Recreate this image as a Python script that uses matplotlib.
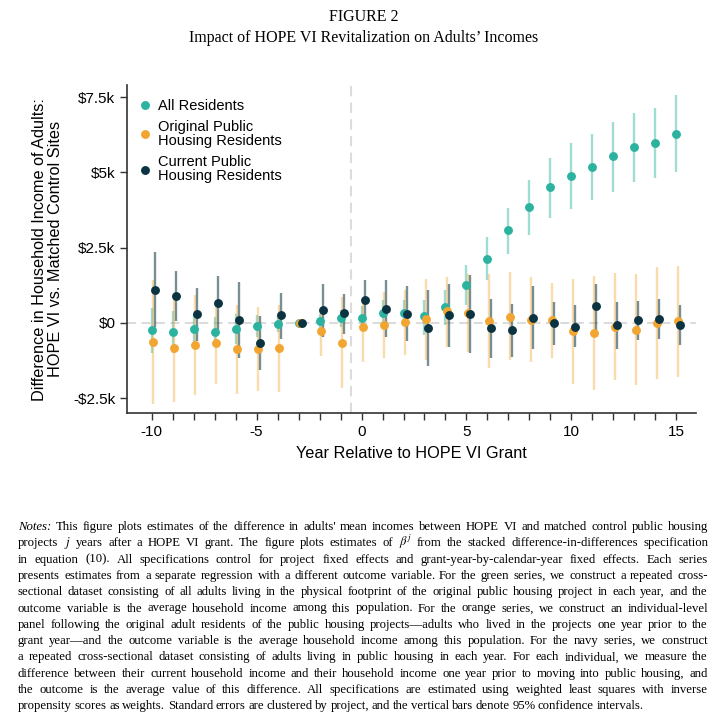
import numpy as np
import matplotlib
matplotlib.use('Agg')
from matplotlib import pyplot as plt

plt.rcParams['font.family'] = ['Liberation Sans', 'DejaVu Sans']
plt.rcParams['mathtext.fontset'] = 'stix'
plt.rcParams['axes.unicode_minus'] = False

# years relative to grant
years = list(range(-10, 16))

# all residents (green)
all_est = [-240, -300, -190, -300, -210, -110, -20, 0, 60, 170, 170, 330, 340, 220, 530,
           1250, 2140, 3080, 3840, 4500, 4890, 5190, 5540, 5850, 5990, 6290]
all_lo = [-1000, -1000, -630, -800, -690, -470, -300, 0, -190, -130, -240, -130, -100, -410, -80,
          590, 1420, 2280, 2910, 3470, 3800, 4100, 4350, 4680, 4800, 5020]
all_hi = [500, 400, 310, 200, 310, 250, 250, 0, 310, 420, 550, 750, 750, 750, 1080,
          1920, 2860, 3830, 4740, 5490, 5990, 6290, 6680, 6990, 7150, 7560]

# original public housing residents (orange)
orig_est = [-630, -830, -740, -660, -850, -850, -820, 0, -280, -650, -130, -80, 30, 140, 400,
            330, 70, 200, 110, 90, -270, -330, -130, -220, 0, 70]
orig_lo = [-2700, -2620, -2400, -2020, -2350, -2260, -2290, 0, -1100, -2150, -1300, -1150, -1070, -1240, -800,
           -960, -1480, -1240, -1300, -1180, -2040, -2240, -1880, -2070, -1850, -1790]
orig_hi = [1420, 1000, 920, 750, 590, 530, 590, 0, 480, 860, 700, 1030, 1100, 1470, 1530,
           1640, 1640, 1690, 1530, 1340, 1470, 1560, 1660, 1620, 1860, 1880]

# current public housing residents (navy)
cur_est = [1110, 890, 290, 660, 90, -660, 250, 0, 420, 330, 750, 480, 310, -160, 250,
           310, -170, -240, 180, 10, -130, 550, -70, 90, 140, -80]
cur_lo = [-140, 50, -600, -230, -1180, -1550, -520, 0, -460, -380, 90, -470, -610, -1440, -800,
          -1000, -1180, -1130, -850, -740, -800, -240, -850, -580, -540, -740]
cur_hi = [2360, 1730, 1170, 1550, 1360, 220, 1000, 0, 1280, 970, 1420, 1420, 1220, 1110, 1280,
          1580, 810, 620, 1220, 700, 590, 1310, 700, 730, 790, 590]

series_names = ['All Residents', 'Original Public\nHousing Residents', 'Current Public\nHousing Residents']
ytick_vals = [-2500, 0, 2500, 5000, 7500]
ytick_labels = ['-$2.5k', '$0', '$2.5k', '$5k', '$7.5k']

teal = '#2bb39f'
orange = '#f2a530'
navy = '#0b3341'

fig = plt.figure(figsize=(7.27, 7.22), dpi=100)
ax = fig.add_axes([0.175, 0.4276, 0.782, 0.4545])

x = np.array(years)
ax.axhline(0, color='#d8d8d8', lw=1.3, ls=(0, (5, 3)), zorder=0)
ax.axvline(-0.5, color='#dcdcdc', lw=1.5, ls=(0, (5, 3)), zorder=0)

sets = [(all_est, all_lo, all_hi, teal, 0.0, 0.45),
        (orig_est, orig_lo, orig_hi, orange, 0.08, 0.4),
        (cur_est, cur_lo, cur_hi, navy, 0.17, 0.55)]

# error bars first, then dots on top
for est, lo, hi, c, off, a in sets:
    ax.vlines(x + off, lo, hi, color=c, alpha=a, lw=1.7, zorder=1)
for (est, lo, hi, c, off, a), name in zip(sets, series_names):
    ax.plot(x + off, est, 'o', color=c, ms=6.4, mec='none', label=name, zorder=3)

ax.set_xlim(-11.16, 15.92)
ax.set_ylim(-3000, 7900)
ax.set_xticks(range(-10, 16), minor=True)
ax.set_xticks([-10, -5, 0, 5, 10, 15])
ax.set_yticks(ytick_vals)
ax.set_yticklabels(ytick_labels)
ax.tick_params(which='both', direction='out', length=5, width=1, color='#333333', labelsize=11)
for s in ['top', 'right']:
    ax.spines[s].set_visible(False)
for s in ['left', 'bottom']:
    ax.spines[s].set_color('#333333')
    ax.spines[s].set_linewidth(1.2)

ax.set_xlabel('Year Relative to HOPE VI Grant', fontsize=11.7, labelpad=5)
ax.set_ylabel('Difference in Household Income of Adults:\nHOPE VI vs. Matched Control Sites',
              fontsize=11.7, labelpad=7, linespacing=1.15)

leg = ax.legend(loc='upper left', frameon=False, fontsize=10.5, handletextpad=0.3,
                labelspacing=0.5, borderaxespad=0.2, handlelength=1.2,
                bbox_to_anchor=(0.0, 0.985))
for t in leg.get_texts():
    t.set_linespacing(1.0)

# titles
fig.text(0.5, 1 - 17 / 722, 'FIGURE 2', ha='center', va='center', fontsize=11.5,
         family='Liberation Serif')
fig.text(0.5, 1 - 38 / 722, 'Impact of HOPE VI Revitalization on Adults’ Incomes', ha='center',
         va='center', fontsize=11.5, family='Liberation Serif')

# notes, justified line by line
notes = [
    "Notes: This figure plots estimates of the difference in adults' mean incomes between HOPE VI and matched control public housing",
    "projects $j$ years after a HOPE VI grant. The figure plots estimates of $\\beta^j$ from the stacked difference-in-differences specification",
    "in equation (10). All specifications control for project fixed effects and grant-year-by-calendar-year fixed effects. Each series",
    "presents estimates from a separate regression with a different outcome variable. For the green series, we construct a repeated cross-",
    "sectional dataset consisting of all adults living in the physical footprint of the original public housing project in each year, and the",
    "outcome variable is the average household income among this population. For the orange series, we construct an individual-level",
    "panel following the original adult residents of the public housing projects—adults who lived in the projects one year prior to the",
    "grant year—and the outcome variable is the average household income among this population. For the navy series, we construct",
    "a repeated cross-sectional dataset consisting of adults living in public housing in each year. For each individual, we measure the",
    "difference between their current household income and their household income one year prior to moving into public housing, and",
    "the outcome is the average value of this difference. All specifications are estimated using weighted least squares with inverse",
    "propensity scores as weights. Standard errors are clustered by project, and the vertical bars denote 95% confidence intervals.",
]
W, H = 727.0, 722.0
x0, x1 = 18.0, 708.0
r = fig.canvas.get_renderer()
for i, line in enumerate(notes):
    y = 1 - (530 + 16.3 * i) / H
    words = line.split(' ')
    ts = []
    for w in words:
        st = 'italic' if w == 'Notes:' else 'normal'
        ts.append(fig.text(0, y, w, fontsize=9.2, family='Liberation Serif', style=st,
                           va='baseline', ha='left'))
    widths = [t.get_window_extent(r).width for t in ts]
    if i == len(notes) - 1:
        gap = 2.6
    else:
        gap = (x1 - x0 - sum(widths)) / (len(words) - 1)
    xx = x0
    for t, w in zip(ts, widths):
        t.set_x(xx / W)
        xx += w + gap

fig.savefig('out.png', dpi=100)
